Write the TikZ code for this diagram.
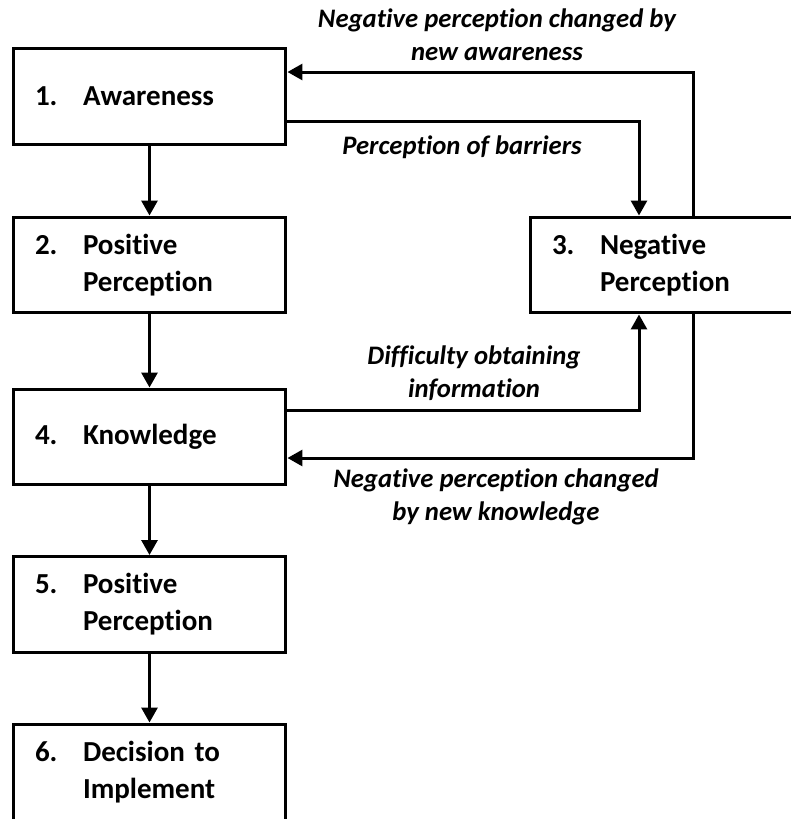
\documentclass[tikz,border=0pt]{standalone}
\usepackage{fontspec}
\setmainfont{Carlito}[Ligatures=NoCommon]
\usetikzlibrary{arrows.meta,positioning,calc}
\newcommand{\mypx}{0.02cm}
\newcommand{\numw}{0.96cm}
\tikzset{
    boxsty/.style={draw,line width=0.06cm,rectangle,minimum width=5.46cm,minimum height=1.92cm,text width=4.58cm,inner xsep=0.44cm,align=left,anchor=center,font=\fontsize{16.5}{21}\selectfont\bfseries},
    lblsty/.style={align=center,anchor=center,font=\fontsize{15.2}{19}\selectfont\bfseries\itshape},
    flowsty/.style={line width=0.06cm,-{Triangle[width=0.32cm,length=0.3cm]}},
}
\newcommand{\stepone}[2]{\makebox[\numw][l]{#1}#2}
\newcommand{\steptwo}[3]{\makebox[\numw][l]{#1}#2\\\hspace*{\numw}#3}

\begin{document}
\begin{tikzpicture}[x=\mypx,y=-\mypx]
  \useasboundingbox (0,0) rectangle (791,819);
  \clip (0,0) rectangle (791,819);

  % steps
  \node[boxsty] (aware) at (149.5,96.5) {\stepone{1.}{Awareness}};
  \node[boxsty] (posone) at (149.5,265) {\steptwo{2.}{Positive}{Perception}};
  \node[boxsty] (neg) at (666.5,265) {\steptwo{3.}{Negative}{Perception}};
  \node[boxsty] (know) at (149.5,437) {\stepone{4.}{Knowledge}};
  \node[boxsty] (postwo) at (149.5,604.5) {\steptwo{5.}{Positive}{Perception}};
  \node[boxsty] (decide) at (149.5,772) {\steptwo{6.}{Decision to}{Implement}};

  \draw[flowsty] (aware) -- (posone);
  \draw[flowsty] (posone) -- (know);
  \draw[flowsty] (know) -- (postwo);
  \draw[flowsty] (postwo) -- (decide);

  % feedback loops
  \coordinate (ctop) at (693,72);
  \coordinate (cbar) at (639,121);
  \coordinate (cinfo) at (639,410);
  \coordinate (cknow) at (693,458);

  \draw[flowsty] (neg.north -| ctop) |- (aware.east |- ctop);
  \draw[flowsty] (aware.east |- cbar) -| (neg.north -| cbar);
  \draw[flowsty] (know.east |- cinfo) -| (neg.south -| cinfo);
  \draw[flowsty] (neg.south -| cknow) |- (know.east |- cknow);

  \node[lblsty] (lawr) at (497,35) {Negative perception changed by\\new awareness};
  \node[lblsty] (lbar) at (462,147) {Perception of barriers};
  \node[lblsty] (linfo) at (474,373) {Difficulty obtaining\\information};
  \node[lblsty] (lknow) at (496,497) {Negative perception changed\\by new knowledge};
\end{tikzpicture}
\end{document}
